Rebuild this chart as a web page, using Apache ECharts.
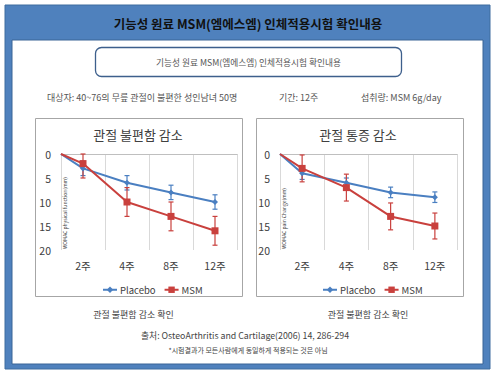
<!DOCTYPE html>
<html><head><meta charset="utf-8">
<script src="https://cdn.jsdelivr.net/npm/echarts@6/dist/echarts.min.js"></script>
<style>html,body{margin:0;padding:0;background:#fff}#c{width:496px;height:375px}</style>
</head><body><div id="c"></div>
<script>
const categories = ['2주', '4주', '8주', '12주'];
const startValue = 0;
const yMin = 0, yMax = 20, yStep = 5;
// 관절 불편함 감소 (WOMAC physical function)
const physPlacebo = [3, 6, 8, 10];
const physPlaceboErr = [1.5, 1.5, 1.5, 1.5];
const physMSM = [2, 10, 13, 16];
const physMSMErr = [3, 3, 3, 3];
// 관절 통증 감소 (WOMAC pain)
const painPlacebo = [4, 6, 8, 9];
const painPlaceboErr = [1.3, 1.0, 1.1, 1.1];
const painMSM = [3, 7, 13, 15];
const painMSMErr = [2.8, 2.8, 2.8, 2.7];

const FONT = '"Noto Sans CJK KR", "Noto Sans", sans-serif';
const BLUE = '#4a7fc1', RED = '#c9403d';

const chart = echarts.init(document.getElementById('c'), null, {renderer: 'svg'});

function lineData(vals) {
  const d = [{value: [-0.5, startValue], symbol: 'none'}];
  vals.forEach((v, i) => d.push([i, v]));
  return d;
}
function errData(vals, errs) {
  return vals.map((v, i) => [i, Math.max(yMin, v - errs[i]), Math.min(yMax, v + errs[i])]);
}
function errSeries(name, vals, errs, color, xi, yi) {
  return {
    type: 'custom', name: name, xAxisIndex: xi, yAxisIndex: yi, z: 1,
    itemStyle: {color: color},
    encode: {x: 0, y: [1, 2]},
    data: errData(vals, errs),
    renderItem: function (params, api) {
      const x = api.value(0);
      const a = api.coord([x, api.value(1)]);
      const b = api.coord([x, api.value(2)]);
      const w = 2.5;
      const st = {stroke: color, lineWidth: 1.2};
      return {type: 'group', children: [
        {type: 'line', shape: {x1: a[0], y1: a[1], x2: b[0], y2: b[1]}, style: st},
        {type: 'line', shape: {x1: a[0] - w, y1: a[1], x2: a[0] + w, y2: a[1]}, style: st},
        {type: 'line', shape: {x1: b[0] - w, y1: b[1], x2: b[0] + w, y2: b[1]}, style: st}
      ]};
    }
  };
}
function lineSeries(name, vals, color, symbol, size, xi, yi) {
  return {
    type: 'line', name: name, xAxisIndex: xi, yAxisIndex: yi, z: 3,
    data: lineData(vals), symbol: symbol, symbolSize: size, showSymbol: true,
    lineStyle: {color: color, width: 2}, itemStyle: {color: color},
    emphasis: {disabled: true}, animation: false
  };
}
function catAxis(gi) {
  return {type: 'category', gridIndex: gi, data: categories, boundaryGap: true,
    axisLine: {show: true, lineStyle: {color: '#bfbfbf'}}, axisTick: {show: false},
    axisLabel: {color: '#404040', fontSize: 10.5, margin: 10, fontFamily: FONT},
    splitLine: {show: true, lineStyle: {color: '#d9d9d9', width: 1}}};
}
function valX(gi) {
  return {type: 'value', gridIndex: gi, min: -0.5, max: 3.5, show: false};
}
function yAx(gi) {
  return {type: 'value', gridIndex: gi, inverse: true, min: yMin, max: yMax, interval: yStep,
    axisLine: {show: false}, axisTick: {show: false}, splitLine: {show: false},
    axisLabel: {color: '#404040', fontSize: 10.5, margin: 10, fontFamily: FONT}};
}
function txt(t, x, y, size, opt) {
  opt = opt || {};
  return {type: 'text', x: x, y: y, rotation: opt.rot || 0, z: 10, silent: true,
    style: {text: t, fill: opt.color || '#404040', font: (opt.weight || 'normal') + ' ' + size + 'px ' + FONT,
      textAlign: opt.align || 'center', textVerticalAlign: 'middle'}};
}
function legend(left) {
  return {left: left, top: 280, itemWidth: 14, itemHeight: 8, itemGap: 8,
    textStyle: {fontSize: 9.5, color: '#404040', fontFamily: FONT, padding: [0, 0, 0, -2]},
    data: ['Placebo', 'MSM'], selectedMode: false};
}

chart.setOption({
  animation: false,
  grid: [
    {left: 61, top: 154, width: 176, height: 96},
    {left: 280, top: 154, width: 177, height: 96}
  ],
  xAxis: [catAxis(0), valX(0), catAxis(1), valX(1)],
  yAxis: [yAx(0), yAx(1)],
  legend: [legend(97), legend(317)],
  series: [
    lineSeries('Placebo', physPlacebo, BLUE, 'diamond', 6, 1, 0),
    lineSeries('MSM', physMSM, RED, 'rect', 7, 1, 0),
    lineSeries('Placebo', painPlacebo, BLUE, 'diamond', 6, 3, 1),
    lineSeries('MSM', painMSM, RED, 'rect', 7, 3, 1),
    errSeries('Placebo', physPlacebo, physPlaceboErr, BLUE, 1, 0),
    errSeries('MSM', physMSM, physMSMErr, RED, 1, 0),
    errSeries('Placebo', painPlacebo, painPlaceboErr, BLUE, 3, 1),
    errSeries('MSM', painMSM, painMSMErr, RED, 3, 1)
  ],
  graphic: [
    {type: 'rect', z: -10, silent: true, shape: {x: 5, y: 5, width: 485, height: 364},
      style: {fill: '#4f81bd', stroke: '#3f6c9f', lineWidth: 1}},
    {type: 'rect', z: -9, silent: true, shape: {x: 12, y: 40, width: 471, height: 324},
      style: {fill: '#ffffff', stroke: '#3a6596', lineWidth: 1}},
    txt('기능성 원료 MSM(엠에스엠) 인체적용시험 확인내용', 248, 23, 12.5, {weight: 'bold', color: '#111'}),
    {type: 'rect', z: -8, silent: true, shape: {x: 95.5, y: 47.5, width: 306, height: 29, r: 6},
      style: {fill: '#fff', stroke: '#3d5f8c', lineWidth: 1.3}},
    txt('기능성 원료 MSM(엠에스엠) 인체적용시험 확인내용', 248.5, 62, 8.7, {color: '#555'}),
    txt('대상자: 40~76의 무릎 관절이 불편한 성인남녀 50명', 47, 97, 9, {align: 'left', color: '#555'}),
    txt('기간: 12주', 279, 97, 9, {align: 'left', color: '#555'}),
    txt('섭취량: MSM 6g/day', 361, 97, 9, {align: 'left', color: '#555'}),
    {type: 'rect', z: -8, silent: true, shape: {x: 35.5, y: 118.5, width: 207, height: 178},
      style: {fill: '#fff', stroke: '#a6a6a6', lineWidth: 1}},
    {type: 'rect', z: -8, silent: true, shape: {x: 256.5, y: 118.5, width: 207, height: 178},
      style: {fill: '#fff', stroke: '#a6a6a6', lineWidth: 1}},
    txt('관절 불편함 감소', 138, 134, 13, {color: '#404040'}),
    txt('관절 통증 감소', 358, 134, 13, {color: '#404040'}),
    txt('WOMAC physical function(mm)', 64, 249, 5, {align: 'left', rot: Math.PI / 2, color: '#404040'}),
    txt('WOMAC pain Change(mm)', 283, 249, 5, {align: 'left', rot: Math.PI / 2, color: '#404040'}),
    txt('관절 불편함 감소 확인', 133.5, 314, 9, {color: '#444'}),
    txt('관절 불편함 감소 확인', 368, 314, 9, {color: '#444'}),
    txt('출처: OsteoArthritis and Cartilage(2006) 14, 286-294', 245, 335, 8.8, {color: '#444'}),
    txt('*시험결과가 모든사람에게 동일하게 적용되는 것은 아님', 248, 350, 7, {color: '#444'})
  ]
});
</script></body></html>
